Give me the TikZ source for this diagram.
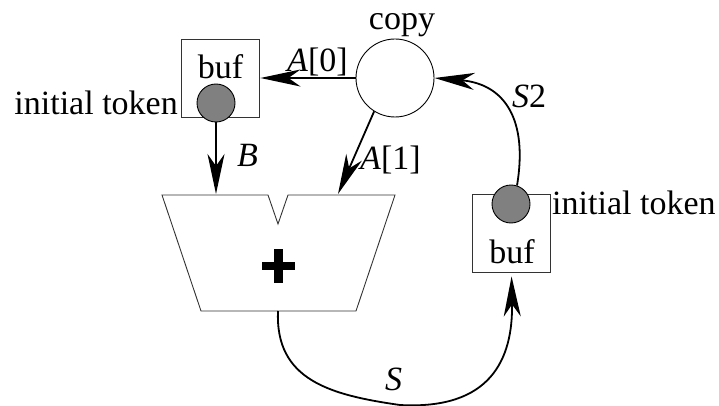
\documentclass[tikz,border=0pt]{standalone}
\usepackage{fontspec}
\setmainfont{Liberation Serif}
\usetikzlibrary{arrows.meta}
\begin{document}
\begin{tikzpicture}[x=1pt,y=-1pt,
  every node/.style={font=\fontsize{34}{40}\selectfont, inner sep=0pt},
  box/.style={draw=black!80, line width=0.9pt, minimum width=78pt, minimum height=78pt},
  tok/.style={circle, draw, fill=black!50, line width=0.9pt, minimum size=38pt},
  proc/.style={circle, draw, line width=0.9pt, minimum size=78pt},
  conn/.style={line width=1.8pt, -{Stealth[length=40pt,width=17pt,inset=12pt]}},
  lbl/.style={anchor=base west},
  addershape/.style={draw=black!80, line width=0.9pt, line join=miter}]

\useasboundingbox (0,0) rectangle (719,406);

% left buffer
\node[box] (buf1) at (220,78) {};
\node[anchor=base] (buf1t) at (220.5,79) {buf};
\node[tok] (tok1) at (216,103) {};
\node[anchor=base east] (it1) at (178,115) {initial token};

% copy actor
\node[proc] (copy) at (395,78) {};
\node[anchor=base] (copyt) at (402,30) {copy};

% right buffer
\node[box] (buf2) at (511.5,233) {};
\node[anchor=base] (buf2t) at (512,263) {buf};
\node[tok] (tok2) at (511,204) {};
\node[lbl] (it2) at (552,214) {initial token};

% adder
\draw[addershape] (162,195) -- (268,195) -- (278,224) -- (288,195) -- (395,195)
  -- (356,311) -- (201,311) -- cycle;
\coordinate (inB) at (216,194);
\coordinate (inA) at (338,194);
\coordinate (addout) at (278,311);
\fill (262,262) rectangle (295,270);
\fill (274,249) rectangle (283,283);

% connectors
\draw[conn, shorten >=1pt] (copy.west) -- (buf1.east);
\draw[conn] (tok1.south) -- (inB);
\draw[conn] (copy.238) -- (inA);
\draw[conn] (tok2.72) .. controls (528,120) and (505,84) .. (copy.east);
\draw[conn, shorten >=4pt] (addout) .. controls (275,380) and (330,395) .. (400,405)
  .. controls (490,410) and (513,360) .. (buf2.south);

% labels
\node[lbl] (lA0) at (287,72) {\textit{A}[0]};
\node[lbl] (lA1) at (360,169) {\textit{A}[1]};
\node[lbl] (lB) at (237,166) {\textit{B}};
\node[lbl] (lS2) at (512,108) {\textit{S}2};
\node[lbl] (lS) at (385,390) {\textit{S}};
\end{tikzpicture}
\end{document}
